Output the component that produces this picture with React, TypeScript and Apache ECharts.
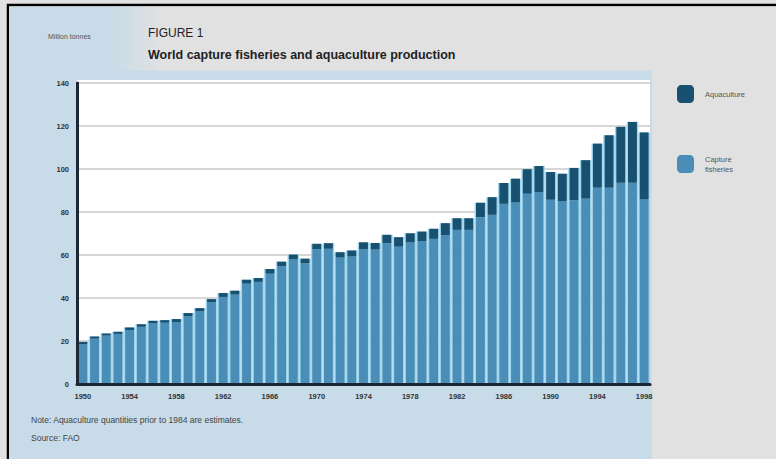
import React, { useEffect, useRef } from "react";
import * as echarts from "echarts";

const years: string[] = [
  "1950","1951","1952","1953","1954","1955","1956","1957","1958","1959",
  "1960","1961","1962","1963","1964","1965","1966","1967","1968","1969",
  "1970","1971","1972","1973","1974","1975","1976","1977","1978","1979",
  "1980","1981","1982","1983","1984","1985","1986","1987","1988","1989",
  "1990","1991","1992","1993","1994","1995","1996","1997","1998",
];

const captureFisheries: number[] = [
  18.6, 21.1, 22.5, 23.3, 25.1, 26.6, 28.2, 28.5, 28.7, 31.5,
  33.8, 38.0, 40.5, 41.6, 46.7, 47.5, 51.3, 54.7, 58.0, 56.1,
  62.7, 62.9, 58.9, 59.3, 62.8, 62.5, 65.5, 63.9, 65.9, 66.4,
  67.5, 69.1, 71.7, 71.7, 77.6, 78.7, 83.8, 84.6, 88.5, 89.3,
  85.7, 85.1, 85.4, 86.2, 91.3, 91.3, 93.6, 93.6, 85.9,
];

const aquaculture: number[] = [
  1.0, 1.0, 1.0, 1.0, 1.2, 1.2, 1.2, 1.2, 1.5, 1.5,
  1.5, 1.5, 1.8, 1.8, 1.8, 1.8, 2.2, 2.2, 2.2, 2.2,
  2.5, 2.6, 2.4, 2.8, 3.1, 3.1, 3.9, 4.4, 4.2, 4.5,
  4.7, 5.7, 5.4, 5.4, 6.7, 8.2, 9.7, 10.9, 11.4, 12.1,
  12.9, 12.7, 15.1, 17.9, 20.5, 24.4, 26.0, 28.3, 31.1,
];

const yTicks = { min: 0, max: 140, interval: 20 };

const COLOR_CAPTURE = "#4a8db6";
const COLOR_AQUA = "#18506f";
const COLOR_GAP = "#a2d6ee";
const BLUE_PANEL = "#c8dbe8";
const GREY_PANEL = "#e1e1e1";
const AXIS_DARK = "#1b2733";
const FONT = "Liberation Sans, Arial, sans-serif";

export default function App() {
  const ref = useRef<HTMLDivElement>(null);

  useEffect(() => {
    if (!ref.current) return;
    const chart = echarts.init(ref.current, null, { renderer: "svg" });

    const option: any = {
      animation: false,
      backgroundColor: GREY_PANEL,
      textStyle: { fontFamily: FONT },
      graphic: [
        { type: "rect", z: -10, shape: { x: 8, y: 5, width: 770, height: 460 }, style: { fill: GREY_PANEL, stroke: "#000", lineWidth: 2.5 } },
        { type: "rect", z: -9, shape: { x: 9, y: 70, width: 643, height: 395 }, style: { fill: BLUE_PANEL } },
        {
          type: "rect", z: -9, shape: { x: 9, y: 6.5, width: 767, height: 64 },
          style: {
            fill: new echarts.graphic.LinearGradient(0, 0, 1, 0, [
              { offset: 0, color: BLUE_PANEL },
              { offset: 0.13, color: BLUE_PANEL },
              { offset: 0.2, color: GREY_PANEL },
              { offset: 1, color: GREY_PANEL },
            ]),
          },
        },
        { type: "rect", z: -8, shape: { x: 77, y: 80, width: 573, height: 304 }, style: { fill: "#ffffff" } },
        { type: "text", left: 48, top: 33, style: { text: "Million tonnes", fontSize: 7, fill: "#555", fontFamily: FONT } },
        { type: "text", left: 148, top: 27, style: { text: "FIGURE 1", fontSize: 12, fill: "#222", fontFamily: FONT } },
        { type: "text", left: 148, top: 48, style: { text: "World capture fisheries and aquaculture production", fontSize: 12.5, fontWeight: "bold", fill: "#222", fontFamily: FONT } },
        { type: "text", left: 31, top: 415, style: { text: "Note: Aquaculture quantities prior to 1984 are estimates.", fontSize: 8.5, fill: "#444", fontFamily: FONT } },
        { type: "text", left: 31, top: 433, style: { text: "Source: FAO", fontSize: 8.5, fill: "#444", fontFamily: FONT } },
      ],
      legend: {
        data: ["Aquaculture", "Capture fisheries"],
        orient: "vertical",
        left: 672,
        top: 80,
        itemWidth: 17,
        itemHeight: 18,
        itemGap: 50,
        icon: "roundRect",
        formatter: (n: string) => (n === "Capture fisheries" ? "Capture\nfisheries" : n),
        textStyle: { fontSize: 7.5, lineHeight: 10, color: "#555", fontFamily: FONT, padding: [2, 0, 0, 6] },
        selectedMode: false,
      },
      grid: { left: 77, right: 126, top: 83, bottom: 75 },
      xAxis: [
        {
          type: "category",
          data: years,
          axisLine: { show: false },
          axisTick: { show: false },
          axisLabel: { interval: 3, fontSize: 7.5, fontWeight: "bold", color: "#333", margin: 8 },
        },
        { type: "category", data: years, show: false },
        {
          type: "category",
          data: years,
          position: "bottom",
          axisLine: { show: true, lineStyle: { color: AXIS_DARK, width: 3 } },
          axisTick: { show: false },
          axisLabel: { show: false },
          splitLine: { show: false },
          z: 10,
        },
      ],
      yAxis: [
        {
          type: "value",
          min: yTicks.min,
          max: yTicks.max,
          interval: yTicks.interval,
          axisLine: { show: false },
          axisTick: { show: false },
          axisLabel: { fontSize: 7.5, fontWeight: "bold", color: "#333", margin: 8 },
          splitLine: { show: true, lineStyle: { color: "#d6d6d6", width: 2 } },
        },
        {
          type: "value",
          min: yTicks.min,
          max: yTicks.max,
          interval: yTicks.interval,
          position: "left",
          axisLine: { show: true, onZero: false, lineStyle: { color: AXIS_DARK, width: 3 } },
          axisTick: { show: false },
          axisLabel: { show: false },
          splitLine: { show: false },
          z: 10,
        },
      ],
      series: [
        {
          name: "gapCapture",
          type: "bar",
          xAxisIndex: 1,
          stack: "bg",
          data: captureFisheries,
          barCategoryGap: "0%",
          itemStyle: { color: COLOR_GAP },
          z: 1,
          silent: true,
        },
        {
          name: "gapAqua",
          type: "bar",
          xAxisIndex: 1,
          stack: "bg",
          data: aquaculture,
          barCategoryGap: "0%",
          itemStyle: { color: COLOR_GAP },
          z: 1,
          silent: true,
        },
        {
          name: "Capture fisheries",
          type: "bar",
          xAxisIndex: 0,
          stack: "total",
          data: captureFisheries,
          barCategoryGap: "24%",
          itemStyle: { color: COLOR_CAPTURE },
          z: 3,
        },
        {
          name: "Aquaculture",
          type: "bar",
          xAxisIndex: 0,
          stack: "total",
          data: aquaculture,
          barCategoryGap: "24%",
          itemStyle: { color: COLOR_AQUA },
          z: 3,
        },
      ],
    };

    chart.setOption(option);
    return () => chart.dispose();
  }, []);

  return (
    <div
      ref={ref}
      style={{ position: "fixed", left: 0, top: 0, width: 776, height: 459 }}
    />
  );
}
